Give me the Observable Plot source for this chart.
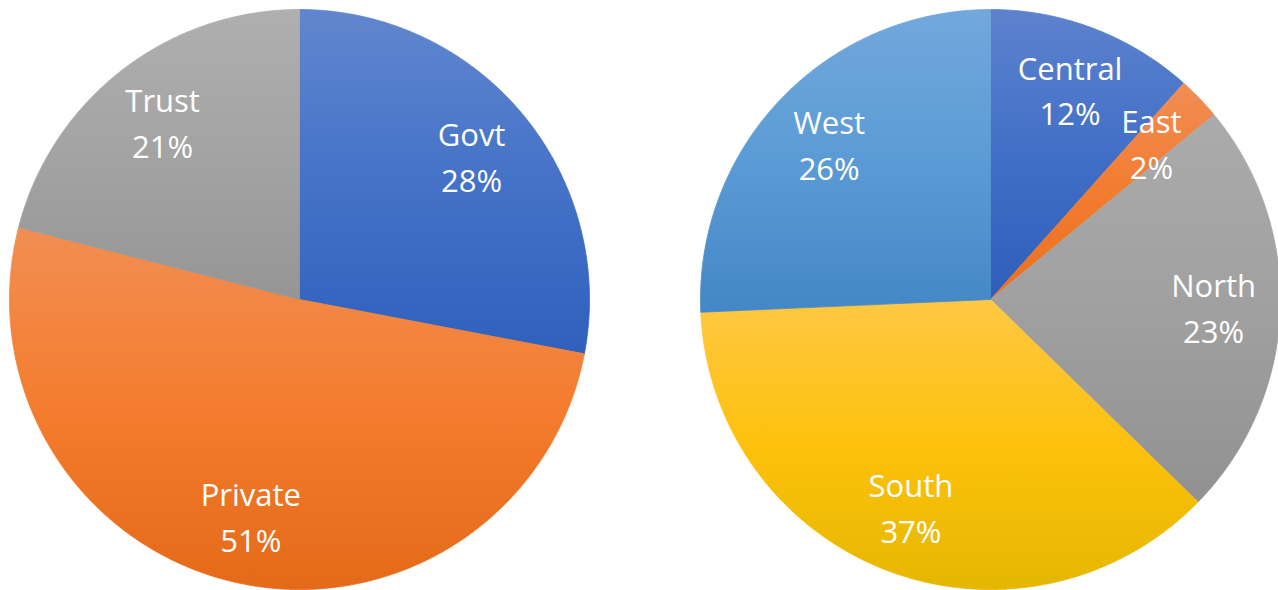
<!DOCTYPE html>
<html>
<head>
<meta charset="utf-8">
<script src="https://cdn.jsdelivr.net/npm/d3@7"></script>
<script src="https://cdn.jsdelivr.net/npm/@observablehq/plot@0.6"></script>
<style>
  html, body { margin: 0; padding: 0; background: #ffffff; }
  #chart { width: 1278px; height: 590px; overflow: hidden; }
</style>
</head>
<body>
<div id="chart"></div>
<script>
// ---- Data ----
const leftCategories = ["Govt", "Private", "Trust"];
const leftValues = [28, 51, 21];
const rightCategories = ["Central", "East", "North", "South", "West"];
const rightValues = [11.6, 2.4, 23.3, 37.0, 25.7];

// ---- Styles (gradient top / middle / bottom per slice) ----
const leftGradients = [
  ["#6186ce", "#4472c8", "#2f60bb"],
  ["#f18e53", "#f47c2e", "#e46a19"],
  ["#afafaf", "#a3a3a3", "#959595"]
];
const rightGradients = [
  ["#5d82cd", "#416fc7", "#2e5eba"],
  ["#f18d55", "#f27c30", "#ed6f1f"],
  ["#ababab", "#a0a0a0", "#919191"],
  ["#ffc843", "#fdc10d", "#e5b700"],
  ["#72a8dc", "#5b9bd5", "#4487c7"]
];

// ---- Layout ----
const W = 1278, H = 590;
const R = 290;
const pies = [
  {cats: leftCategories, vals: leftValues, grads: leftGradients, cx: 299, cy: 299, id: "L"},
  {cats: rightCategories, vals: rightValues, grads: rightGradients, cx: 990, cy: 299, id: "R"}
];
const labelRadius = 0.77;
const labelDy = -3;
const fontFamily = "'Open Sans', 'Noto Sans', sans-serif";

// Build slice outlines and labels from the data
const slices = [];
const labels = [];
for (const pie of pies) {
  const total = d3.sum(pie.vals);
  let acc = 0;
  pie.cats.forEach((cat, i) => {
    const a0 = acc / total * 2 * Math.PI;
    acc += pie.vals[i];
    const a1 = acc / total * 2 * Math.PI;
    const pts = [{x: pie.cx, y: pie.cy}];
    const n = Math.max(2, Math.ceil((a1 - a0) / (Math.PI / 360)));
    for (let k = 0; k <= n; k++) {
      const a = a0 + (a1 - a0) * k / n;
      pts.push({x: pie.cx + R * Math.sin(a), y: pie.cy - R * Math.cos(a)});
    }
    pts.push({x: pie.cx, y: pie.cy});
    const gid = `grad-${pie.id}-${i}`;
    slices.push({key: cat, pts, gid, colors: pie.grads[i]});
    const am = (a0 + a1) / 2;
    labels.push({
      x: pie.cx + labelRadius * R * Math.sin(am),
      y: pie.cy - labelRadius * R * Math.cos(am),
      text: `${cat}\n${Math.round(pie.vals[i] / total * 100)}%`
    });
  });
}

const plot = Plot.plot({
  width: W,
  height: H,
  margin: 0,
  style: {background: "transparent", overflow: "hidden"},
  x: {domain: [0, W], range: [0, W], axis: null},
  y: {domain: [0, H], range: [0, H], axis: null},
  marks: [
    ...slices.map(s => Plot.line(s.pts, {
      x: "x", y: "y",
      fill: `url(#${s.gid})`,
      stroke: `url(#${s.gid})`,
      strokeWidth: 0.8,
      curve: "linear"
    })),
    Plot.text(labels, {
      x: "x", y: "y", text: "text",
      dy: labelDy,
      fill: "white",
      fontSize: 31,
      lineHeight: 1.48,
      fontFamily,
      textAnchor: "middle"
    })
  ]
});

// gradient definitions
const defs = d3.select(plot).insert("defs", ":first-child");
for (const s of slices) {
  const g = defs.append("linearGradient")
    .attr("id", s.gid)
    .attr("x1", 0).attr("y1", 0).attr("x2", 0).attr("y2", 1);
  g.append("stop").attr("offset", "0%").attr("stop-color", s.colors[0]);
  g.append("stop").attr("offset", "50%").attr("stop-color", s.colors[1]);
  g.append("stop").attr("offset", "100%").attr("stop-color", s.colors[2]);
}

document.getElementById("chart").appendChild(plot);
</script>
</body>
</html>
